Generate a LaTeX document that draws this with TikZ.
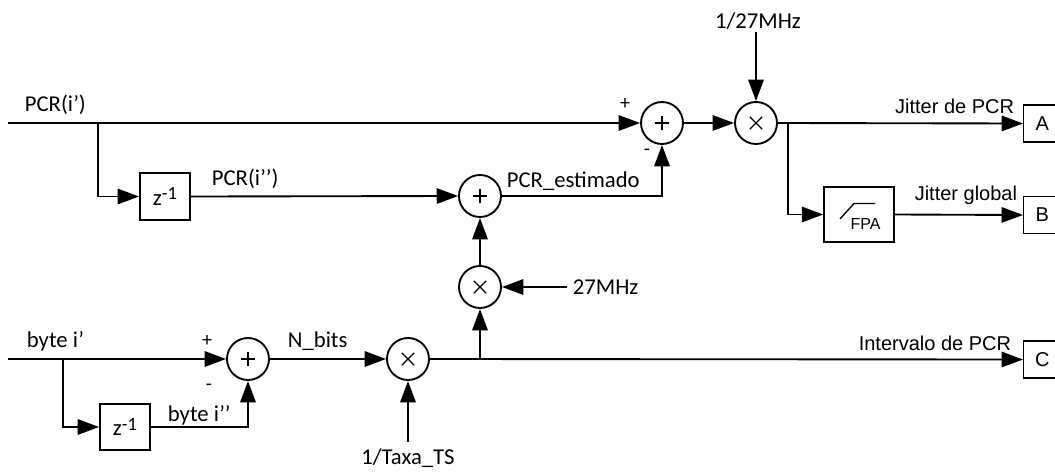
\documentclass[tikz,border=0pt]{standalone}
\usepackage{fontspec}
\setmainfont{Carlito}
\newfontfamily\arialf{Liberation Sans}
\usetikzlibrary{arrows.meta}
\begin{document}
\begin{tikzpicture}[x=0.75pt,y=-0.75pt,
  line width=1.4pt,
  lbl/.style={font=\fontsize{17}{20}\selectfont, inner sep=0pt},
  albl/.style={font=\arialf\fontsize{15}{18}\selectfont, inner sep=0pt},
  sgn/.style={font=\fontsize{15}{17}\selectfont, inner sep=0pt},
  arr/.style={-{Triangle[length=16pt,width=11.5pt]}},
  opnode/.style={circle, draw, minimum size=31.5pt, inner sep=0pt},
  sumnode/.style={opnode, path picture={
      \draw[line width=1pt] ([xshift=-5.6pt]path picture bounding box.center) -- ([xshift=5.6pt]path picture bounding box.center);
      \draw[line width=1pt] ([yshift=-5.6pt]path picture bounding box.center) -- ([yshift=5.6pt]path picture bounding box.center);}},
  mulnode/.style={opnode, path picture={
      \draw[line width=1pt] ([shift={(-4.6pt,-4.6pt)}]path picture bounding box.center) -- ([shift={(4.6pt,4.6pt)}]path picture bounding box.center);
      \draw[line width=1pt] ([shift={(-4.6pt,4.6pt)}]path picture bounding box.center) -- ([shift={(4.6pt,-4.6pt)}]path picture bounding box.center);}},
  zbox/.style={draw, minimum width=37.5pt, minimum height=35pt, inner sep=0pt, font=\fontsize{17}{20}\selectfont},
  outbox/.style={draw, minimum width=29pt, minimum height=27.5pt, inner sep=0pt, font=\arialf\fontsize{15}{18}\selectfont, line width=1.1pt}
]
\useasboundingbox (0,0) rectangle (1055,471);

% operator nodes
\node[sumnode] (sum1) at (662,123) {};
\node[mulnode] (mul1) at (756,123) {};
\node[sumnode] (sum2) at (480,196) {};
\node[mulnode] (mul2) at (480,287) {};
\node[sumnode] (sum3) at (248,359) {};
\node[mulnode] (mul3) at (408,359) {};

% boxes
\node[zbox] (zA) at (165,196.5) {z\raisebox{4pt}{\fontsize{14}{16}\selectfont -1}};
\node[zbox] (zB) at (125,427) {z\raisebox{4pt}{\fontsize{14}{16}\selectfont -1}};
\node[draw, minimum width=52.5pt, minimum height=41pt, inner sep=0pt, line width=1.1pt] (fpa) at (859,214.5) {};
\node[font=\arialf\fontsize{12}{14}\selectfont, inner sep=0pt] (fpatxt) at (865.5,224) {FPA};
\draw[line width=1pt] (840,219) -- (854,203.5) -- (875,203.5);

\node[outbox, anchor=west] (A) at (1023,123.5) {\hspace*{-1pt}A};
\node[outbox, anchor=west] (B) at (1023,215) {\hspace*{-1pt}B};
\node[outbox, anchor=west] (C) at (1023,359.5) {\hspace*{-1pt}C};

% coordinates
\coordinate (in1) at (8,123);
\coordinate (in2) at (8,359);
\coordinate (b1) at (98,123);
\coordinate (b2) at (63,359);
\coordinate (b3) at (788,123);
\coordinate (b4) at (480,359);
\coordinate (s27a) at (756,32);
\coordinate (s27b) at (567,287);
\coordinate (staxa) at (408,442);

% labels
\node[lbl, anchor=west] (lpcr1) at (24,105) {PCR(i’)};
\node[lbl, anchor=west] (lpcr2) at (211,179) {PCR(i’’)};
\node[sgn] (p1) at (625,104) {+};
\node[sgn] (m1) at (647,152) {-};
\node[lbl, anchor=west] (lest) at (506,181) {PCR\_estimado};
\node[albl, anchor=east] (ljit) at (1015,106) {Jitter de PCR};
\node[albl, anchor=east] (lglob) at (1018,195) {Jitter global};
\node[lbl] (l127) at (758,21) {1/27MHz};
\node[lbl, anchor=west] (l27) at (572,287) {27MHz};
\node[lbl, anchor=west] (lbyte1) at (26,341) {byte i’};
\node[lbl, anchor=west] (lbyte2) at (167,415) {byte i’’};
\node[sgn] (p3) at (207,341) {+};
\node[sgn] (m3) at (209,387) {-};
\node[lbl, anchor=west] (lnbits) at (287,341) {N\_bits};
\node[lbl] (ltaxa) at (408,458) {1/Taxa\_TS};
\node[albl, anchor=east] (lint) at (1012,343) {Intervalo de PCR};

% connectors top
\draw[arr] (in1) -- (sum1.west);
\draw[arr] (b1) |- (zA.west);
\draw[arr] (zA.east) -- (sum2.west);
\draw[arr] (sum2.east) -| (sum1.south);
\draw[arr] (sum1.east) -- (mul1.west);
\draw[arr] (s27a) -- (mul1.north);
\draw[arr] (mul1.east) -- (A.west);
\draw[arr] (b3) |- (fpa.west);
\draw[arr] (fpa.east) -- (B.west);
% middle
\draw[arr] (mul2.north) -- (sum2.south);
\draw[arr] (s27b) -- (mul2.east);
\draw[arr] (b4) -- (mul2.south);
% bottom
\draw[arr] (in2) -- (sum3.west);
\draw[arr] (b2) |- (zB.west);
\draw[arr] (zB.east) -| (sum3.south);
\draw[arr] (sum3.east) -- (mul3.west);
\draw[arr] (staxa) -- (mul3.south);
\draw[arr] (mul3.east) -- (C.west);
\end{tikzpicture}
\end{document}
